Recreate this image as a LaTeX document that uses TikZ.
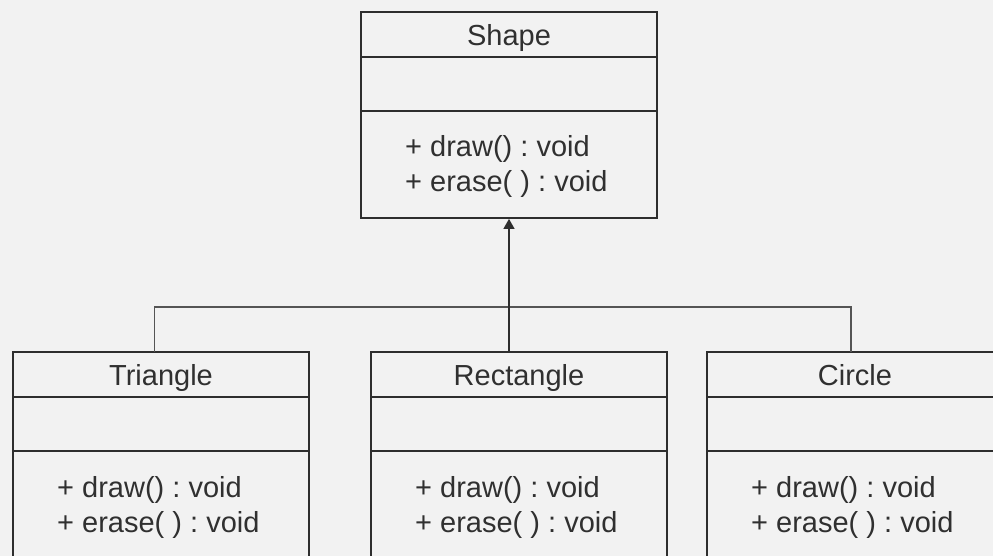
\documentclass[tikz,border=0pt]{standalone}
\usepackage{fontspec}
\setmainfont{Liberation Sans}
\usetikzlibrary{arrows.meta}
\definecolor{bgc}{HTML}{F2F2F2}
\definecolor{boxc}{HTML}{2E2E2E}
\definecolor{linec}{HTML}{555555}
\definecolor{txtc}{HTML}{303030}
\frenchspacing
\begin{document}
\begin{tikzpicture}[x=1pt,y=-1pt,
  classbox/.style={draw=boxc,line width=1.8pt,fill=bgc,minimum width=296pt,
    minimum height=206pt,anchor=north west,inner sep=0pt,outer sep=0pt},
  divider/.style={draw=boxc,line width=1.8pt},
  ctitle/.style={anchor=base,inner sep=0pt,text=txtc,font=\fontsize{29}{34}\selectfont},
  cmethod/.style={anchor=base west,inner sep=0pt,text=txtc,font=\fontsize{29}{34}\selectfont},
  edge/.style={draw=linec,line width=1.2pt},
  genarrow/.style={edge,-{Triangle[width=11pt,length=10pt]},draw=boxc}]
\fill[bgc] (0,0) rectangle (993,556);
\clip (0,0) rectangle (993,556);

% class boxes
\node[classbox] (shape) at (361,12) {};
\node[classbox] (tri) at (13,352) {};
\node[classbox] (rect) at (371,352) {};
\node[classbox] (circ) at (707,352) {};

% dividers, titles, methods
\foreach \c/\t in {shape/Shape,tri/Triangle,rect/Rectangle,circ/Circle}{
  \draw[divider] ([yshift=-45pt]\c.north west) -- ([yshift=-45pt]\c.north east);
  \draw[divider] ([yshift=-99pt]\c.north west) -- ([yshift=-99pt]\c.north east);
  \node[ctitle] (\c-title) at ([yshift=-33.5pt]\c.north) {\t};
  \node[cmethod] (\c-m1) at ([xshift=44pt,yshift=-145pt]\c.north west) {+ draw() : void};
  \node[cmethod] (\c-m2) at ([xshift=44pt,yshift=-180pt]\c.north west) {+ erase( ) : void};
}

% generalization connectors
\coordinate (bus) at (508.5,307);
\draw[edge] ([xshift=-6.5pt]tri.north) |- (bus);
\draw[edge] ([xshift=-4pt]circ.north) |- (bus);
\draw[genarrow] (rect.north -| shape.south) -- ([yshift=-0.9pt]shape.south);
\end{tikzpicture}
\end{document}
